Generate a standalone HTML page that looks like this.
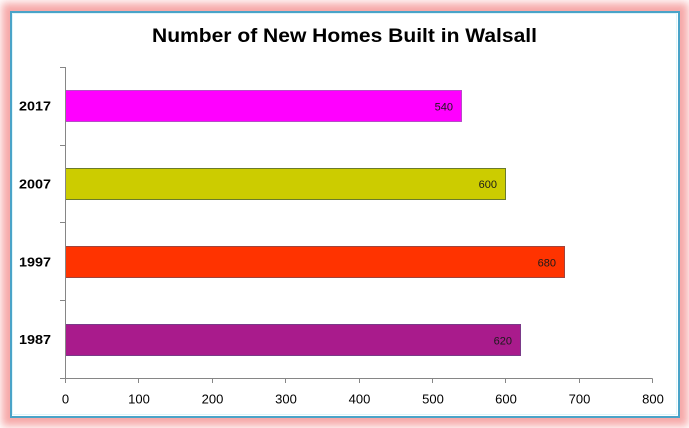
<!DOCTYPE html>
<html>
<head>
<meta charset="utf-8">
<style>
  html, body { margin:0; padding:0; background:#ffffff; }
  body { width:689px; height:428px; position:relative; overflow:hidden; }
  .glow { position:absolute; left:0; top:0; width:689px; height:428px; background:#ffffff; }
  .frame {
    position:absolute; left:10px; top:11px; width:666px; height:403px;
    background:#ffffff; border:2px solid #4aa3c8;
    box-shadow: 0 0 8px 8px rgba(245,158,158,0.9);
  }
  svg { position:absolute; left:0; top:0; }
</style>
</head>
<body>
<div class="glow"></div>
<div class="frame"></div>
<svg width="689" height="428" viewBox="0 0 689 428" xmlns="http://www.w3.org/2000/svg">
  <rect x="12.5" y="13.5" width="664" height="401" fill="none" stroke="#dff6fb" stroke-width="1"/>

  <text x="152" y="42" font-family="Liberation Sans, sans-serif" font-weight="bold" font-size="19.5" fill="#000" textLength="385" lengthAdjust="spacingAndGlyphs">Number of New Homes Built in Walsall</text>

  <rect x="65.5" y="90.5" width="396" height="31" fill="#ff00ff" stroke="#b84cc8" stroke-width="1"/>
  <rect x="65.5" y="168.5" width="440" height="31" fill="#cccc00" stroke="#6b7b2b" stroke-width="1"/>
  <rect x="65.5" y="246.5" width="499" height="31" fill="#ff3300" stroke="#a0443c" stroke-width="1"/>
  <rect x="65.5" y="324.5" width="455" height="31" fill="#a91b8c" stroke="#7a3a88" stroke-width="1"/>

  <g font-family="Liberation Sans, sans-serif" font-size="11" fill="#1a1a1a" text-anchor="end">
    <text x="453" y="110.5">540</text>
    <text x="497" y="188">600</text>
    <text x="556" y="266.5">680</text>
    <text x="512" y="344.5">620</text>
  </g>

  <g stroke="#868686" stroke-width="1" fill="none">
    <line x1="65.5" y1="67" x2="65.5" y2="378.5"/>
    <line x1="60" y1="67.5" x2="65.5" y2="67.5"/>
    <line x1="60" y1="145.5" x2="65.5" y2="145.5"/>
    <line x1="60" y1="222.5" x2="65.5" y2="222.5"/>
    <line x1="60" y1="300.5" x2="65.5" y2="300.5"/>
    <line x1="60" y1="378.5" x2="652.5" y2="378.5"/>
    <line x1="65.5" y1="378.5" x2="65.5" y2="383"/>
    <line x1="138.5" y1="378.5" x2="138.5" y2="383"/>
    <line x1="212.5" y1="378.5" x2="212.5" y2="383"/>
    <line x1="285.5" y1="378.5" x2="285.5" y2="383"/>
    <line x1="359.5" y1="378.5" x2="359.5" y2="383"/>
    <line x1="432.5" y1="378.5" x2="432.5" y2="383"/>
    <line x1="505.5" y1="378.5" x2="505.5" y2="383"/>
    <line x1="579.5" y1="378.5" x2="579.5" y2="383"/>
    <line x1="652.5" y1="378.5" x2="652.5" y2="383"/>
  </g>

  <g font-family="Liberation Sans, sans-serif" font-size="13" fill="#000" text-anchor="middle">
    <text x="65.5" y="403.5">0</text>
    <text x="139" y="403.5">100</text>
    <text x="212.5" y="403.5">200</text>
    <text x="286" y="403.5">300</text>
    <text x="359.5" y="403.5">400</text>
    <text x="433" y="403.5">500</text>
    <text x="506" y="403.5">600</text>
    <text x="579.5" y="403.5">700</text>
    <text x="653" y="403.5">800</text>
  </g>

  <g font-family="Liberation Sans, sans-serif" font-size="13" font-weight="bold" fill="#000">
    <text x="19" y="110.5" textLength="32" lengthAdjust="spacingAndGlyphs">2017</text>
    <text x="19" y="188.5" textLength="32" lengthAdjust="spacingAndGlyphs">2007</text>
    <text x="19" y="266.5" textLength="32" lengthAdjust="spacingAndGlyphs">1997</text>
    <text x="19" y="344" textLength="32" lengthAdjust="spacingAndGlyphs">1987</text>
  </g>
</svg>
</body>
</html>
